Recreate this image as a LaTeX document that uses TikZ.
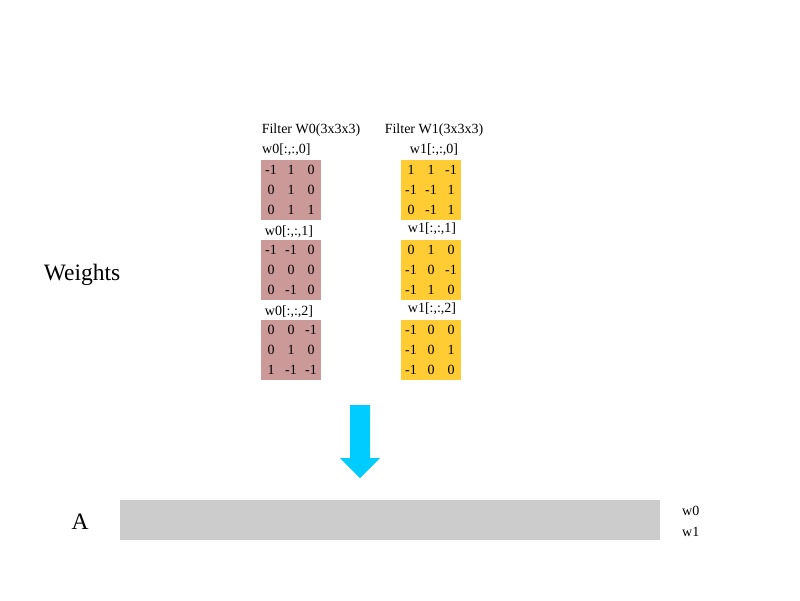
\documentclass[tikz,border=0pt]{standalone}
\usepackage{fontspec}
\setmainfont{Liberation Serif}
\usepackage{xcolor}
\usetikzlibrary{calc}
\definecolor{filterpink}{RGB}{204, 153, 153}
\definecolor{filteryellow}{RGB}{255, 204, 51}
\definecolor{arrowcyan}{RGB}{0, 204, 255}
\definecolor{bargray}{RGB}{204, 204, 204}
\begin{document}
\begin{tikzpicture}[
    x=1pt, y=-1pt,
    kernel/.style={rectangle, minimum width=60pt, minimum height=60pt, inner sep=0pt},
    cell/.style={font=\fontsize{14}{16}\selectfont, inner sep=0pt},
    caption/.style={font=\fontsize{14}{16}\selectfont, inner sep=0pt},
    biglabel/.style={font=\fontsize{23.5}{26}\selectfont, inner sep=0pt}
]
    \useasboundingbox (0,0) rectangle (800,600);

    \node[biglabel] (weights) at (82, 275) {Weights};

    % filter captions
    \node[caption] (f0) at (311, 130) {Filter W0(3x3x3)};
    \node[caption] (f1) at (434, 130) {Filter W1(3x3x3)};

    % kernels of filter W0
    \node[kernel, fill=filterpink] (k00) at (291, 190) {};
    \node[kernel, fill=filterpink] (k01) at (291, 270) {};
    \node[kernel, fill=filterpink] (k02) at (291, 350) {};
    \node[caption, anchor=west] (l00) at (262, 150) {w0[:,:,0]};
    \node[caption] (l01) at (289, 232) {w0[:,:,1]};
    \node[caption] (l02) at (289, 312) {w0[:,:,2]};

    % kernels of filter W1
    \node[kernel, fill=filteryellow] (k10) at (431, 190) {};
    \node[kernel, fill=filteryellow] (k11) at (431, 270) {};
    \node[kernel, fill=filteryellow] (k12) at (431, 350) {};
    \node[caption] (l10) at (434, 150) {w1[:,:,0]};
    \node[caption] (l11) at (432, 229) {w1[:,:,1]};
    \node[caption] (l12) at (432, 309) {w1[:,:,2]};

    % kernel values, row by row
    \foreach \k/\vals in {k00/{-1,1,0,0,1,0,0,1,1}, k01/{-1,-1,0,0,0,0,0,-1,0},
                         k02/{0,0,-1,0,1,0,1,-1,-1}, k10/{1,1,-1,-1,-1,1,0,-1,1},
                         k11/{0,1,0,-1,0,-1,-1,1,0}, k12/{-1,0,0,-1,0,1,-1,0,0}} {
        \foreach \v [count=\i from 0] in \vals {
            \pgfmathtruncatemacro{\r}{int(\i/3)}
            \pgfmathtruncatemacro{\c}{mod(\i,3)}
            \node[cell] at ($(\k.center)+(\c*20-20, \r*20-20)$) {\v};
        }
    }

    % block arrow
    \fill[arrowcyan] (350,405) -- (370,405) -- (370,458) -- (380,458)
        -- (360,478) -- (340,458) -- (350,458) -- cycle;

    % result row
    \node[biglabel] (a) at (80, 522) {A};
    \node[rectangle, fill=bargray, minimum width=540pt, minimum height=40pt, inner sep=0pt] (bar) at (390, 520) {};
    \node[caption, anchor=west] (w0) at (682, 511) {w0};
    \node[caption, anchor=west] (w1) at (682, 532) {w1};
\end{tikzpicture}
\end{document}
